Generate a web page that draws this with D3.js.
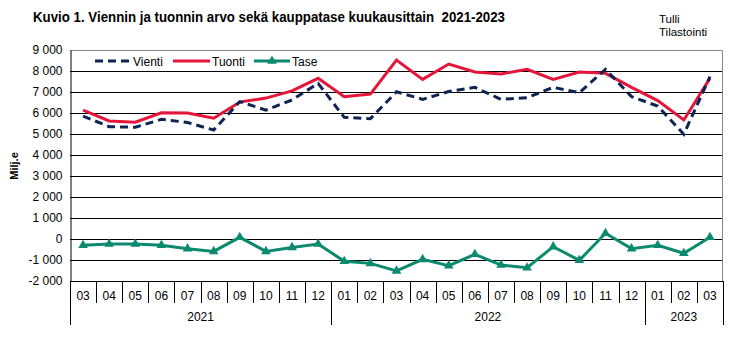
<!DOCTYPE html>
<html><head><meta charset="utf-8">
<script src="https://cdn.jsdelivr.net/npm/d3@7"></script>
<style>
body{margin:0;background:#fff;}
svg{display:block;}
</style></head>
<body>
<svg id="c" width="756" height="340"></svg>
<script>
const months = ["03","04","05","06","07","08","09","10","11","12","01","02","03","04","05","06","07","08","09","10","11","12","01","02","03"];
const years = [{label:"2021", start:0, end:10},{label:"2022", start:10, end:22},{label:"2023", start:22, end:25}];
const vienti = [5850,5350,5320,5700,5550,5190,6540,6140,6620,7410,5790,5730,7010,6650,7020,7220,6650,6730,7220,6970,8080,6780,6330,4990,7730];
const tuonti = [6140,5620,5560,6010,6000,5750,6520,6710,7050,7650,6780,6900,8520,7600,8330,7950,7860,8080,7600,7950,7890,7220,6590,5670,7650];
const tase = [-300,-240,-240,-300,-460,-590,80,-590,-400,-240,-1060,-1160,-1520,-970,-1270,-730,-1240,-1370,-365,-1016,270,-460,-300,-680,80];
const yTicks = [-2000,-1000,0,1000,2000,3000,4000,5000,6000,7000,8000,9000];

const svg = d3.select("#c");
const L=70, R=723, T=50, B=281;
const x = d3.scaleBand().domain(d3.range(months.length)).range([L,R]).padding(0);
const y = d3.scaleLinear().domain([-2000,9000]).range([B,T]);
const loc = d3.formatLocale({decimal:",", thousands:" ", grouping:[3], currency:["","€"], minus:"-"});
const fmt = loc.format(",d");
const narrow = "'Liberation Sans Narrow','Arial Narrow','Liberation Sans',Arial,sans-serif";
const sans = "'Liberation Sans',Arial,sans-serif";

// title
svg.append("text").attr("x",33).attr("y",22).attr("font-family",sans).attr("font-weight","bold")
  .attr("font-size",14).attr("fill","#000").attr("textLength",472).attr("lengthAdjust","spacingAndGlyphs")
  .style("white-space","pre")
  .text("Kuvio 1. Viennin ja tuonnin arvo sekä kauppatase kuukausittain  2021-2023");
svg.append("text").attr("x",659).attr("y",23).attr("font-family",narrow).attr("font-size",11.5).text("Tulli");
svg.append("text").attr("x",659).attr("y",36).attr("font-family",narrow).attr("font-size",11.5).text("Tilastointi");

// gridlines
svg.append("g").selectAll("line").data(yTicks.filter(d=>d<9000)).join("line")
  .attr("x1",L).attr("x2",R).attr("y1",d=>Math.round(y(d))+0.5).attr("y2",d=>Math.round(y(d))+0.5)
  .attr("stroke","#000").attr("stroke-width",1);
// plot border top/right
svg.append("path").attr("d",`M${L},${T+0.5}H${R-0.5}V${B}`).attr("fill","none").attr("stroke","#888").attr("stroke-width",1);

// y axis
const yAxis = d3.axisLeft(y).tickValues(yTicks).tickFormat(fmt).tickSize(0).tickPadding(8);
const ga = svg.append("g").attr("transform",`translate(${L+0.5},0)`).call(yAxis);
ga.select(".domain").attr("stroke","#000");
ga.selectAll("text").attr("font-family",sans).attr("font-size",12).attr("fill","#000");

svg.append("text").attr("transform","translate(18,166) rotate(-90)").attr("text-anchor","middle")
  .attr("font-family",sans).attr("font-weight","bold").attr("font-size",11).text("Milj.e");

// x axis: month dividers
const bw = x.bandwidth();
const xb = svg.append("g");
xb.append("line").attr("x1",L).attr("x2",R).attr("y1",B+0.5).attr("y2",B+0.5).attr("stroke","#000");
const bounds = d3.range(months.length+1);
const yearBounds = new Set([0,10,22,25]);
xb.selectAll("line.t").data(bounds).join("line").attr("class","t")
  .attr("x1",i=>Math.round(L+i*bw)+0.5).attr("x2",i=>Math.round(L+i*bw)+0.5)
  .attr("y1",B).attr("y2",i=>yearBounds.has(i)?325:303).attr("stroke","#000");
xb.selectAll("text.m").data(months).join("text").attr("class","m")
  .attr("x",(d,i)=>x(i)+bw/2).attr("y",300).attr("text-anchor","middle")
  .attr("font-family",sans).attr("font-size",12).text(d=>d);
xb.selectAll("text.yr").data(years).join("text").attr("class","yr")
  .attr("x",d=>L+(d.start+d.end)/2*bw).attr("y",321).attr("text-anchor","middle")
  .attr("font-family",sans).attr("font-size",12).text(d=>d.label);

// lines
const line = d3.line().x((d,i)=>x(i)+bw/2).y(d=>y(d));
svg.append("path").datum(tuonti).attr("d",line).attr("fill","none").attr("stroke","#e4163a").attr("stroke-width",3).attr("stroke-linejoin","miter");
svg.append("path").datum(vienti).attr("d",line).attr("fill","none").attr("stroke","#0e2553").attr("stroke-width",3).attr("stroke-dasharray","8,5");
svg.append("path").datum(tase).attr("d",line).attr("fill","none").attr("stroke","#0b8a6f").attr("stroke-width",3);
const tri = d3.symbol().type(d3.symbolTriangle).size(40);
svg.append("g").selectAll("path").data(tase).join("path").attr("d",tri)
  .attr("transform",(d,i)=>`translate(${x(i)+bw/2},${y(d)})`).attr("fill","#0b8a6f");

// legend
const lg = svg.append("g");
const ly = 61;
lg.append("line").attr("x1",95).attr("x2",130).attr("y1",ly).attr("y2",ly).attr("stroke","#0e2553").attr("stroke-width",3).attr("stroke-dasharray","8,5");
lg.append("text").attr("x",133).attr("y",ly+4.5).attr("font-family",sans).attr("font-size",12).text("Vienti");
lg.append("line").attr("x1",173).attr("x2",210).attr("y1",ly).attr("y2",ly).attr("stroke","#e4163a").attr("stroke-width",3);
lg.append("text").attr("x",212).attr("y",ly+4.5).attr("font-family",sans).attr("font-size",12).text("Tuonti");
lg.append("line").attr("x1",254).attr("x2",290).attr("y1",ly).attr("y2",ly).attr("stroke","#0b8a6f").attr("stroke-width",3);
lg.append("path").attr("d",tri).attr("transform",`translate(272,${ly})`).attr("fill","#0b8a6f");
lg.append("text").attr("x",292).attr("y",ly+4.5).attr("font-family",sans).attr("font-size",12).text("Tase");
</script>
</body></html>
